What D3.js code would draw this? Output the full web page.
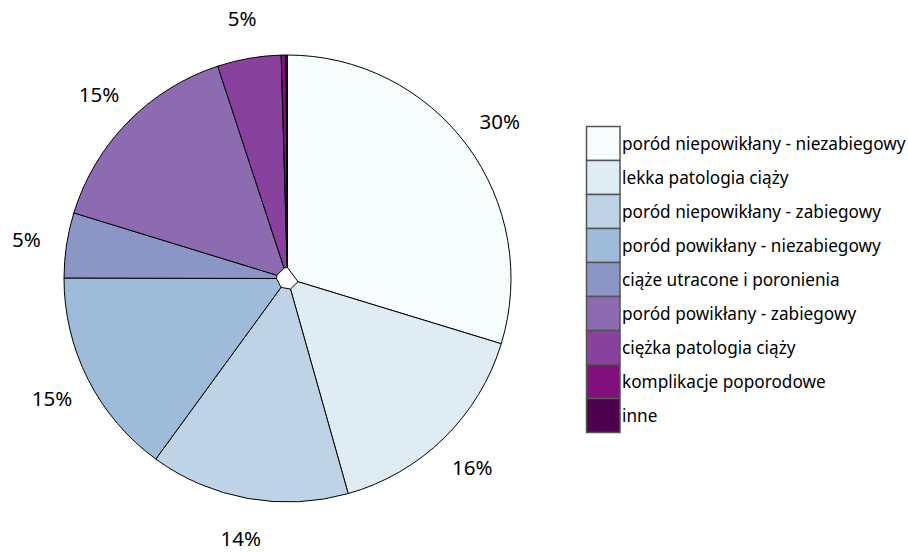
<!DOCTYPE html>
<html>
<head>
<meta charset="utf-8">
<script src="https://cdn.jsdelivr.net/npm/d3@7"></script>
<style>
  html, body { margin: 0; padding: 0; background: #fff; }
  svg { display: block; }
  text { font-family: "Noto Sans", "Open Sans", sans-serif; fill: #000; }
</style>
</head>
<body>
<svg id="chart" width="908" height="552"></svg>
<script>
// Categories of pregnancy / delivery outcomes
const categories = [
  "poród niepowikłany - niezabiegowy",
  "lekka patologia ciąży",
  "poród niepowikłany - zabiegowy",
  "poród powikłany - niezabiegowy",
  "ciąże utracone i poronienia",
  "poród powikłany - zabiegowy",
  "ciężka patologia ciąży",
  "komplikacje poporodowe",
  "inne"
];
// Share of each category, in percent
const shares = [29.7, 15.9, 14.4, 15.0, 4.7, 15.2, 4.6, 0.35, 0.1];
// Fill colours (BuPu sequence)
const colors = ["#f7fcfd", "#e0ecf4", "#bfd3e6", "#9ebcda", "#8c96c6",
                "#8c6bb1", "#88419d", "#810f7c", "#4d004b"];

const data = categories.map((c, i) => ({ name: c, value: shares[i], color: colors[i] }));

const svg = d3.select("#chart");
const cx = 287.5, cy = 278.5;
const outerR = 223.5, holeR = 11, labelR = 264;

const pie = d3.pie().value(d => d.value).sort(null);
const arcs = pie(data);
const total = d3.sum(shares);

const arc = d3.arc().innerRadius(0).outerRadius(outerR);

const g = svg.append("g").attr("transform", `translate(${cx},${cy})`);

g.selectAll("path.slice")
  .data(arcs)
  .join("path")
  .attr("class", "slice")
  .attr("d", arc)
  .attr("fill", d => d.data.color)
  .attr("stroke", "#000")
  .attr("stroke-width", 1)
  .attr("stroke-linejoin", "round");

// Small polygonal hole at the centre, with a vertex on each slice boundary
const holePts = arcs.map(d => [holeR * Math.sin(d.startAngle), -holeR * Math.cos(d.startAngle)]);
g.append("path")
  .attr("d", d3.line()(holePts) + "Z")
  .attr("fill", "#fff")
  .attr("stroke", "#000")
  .attr("stroke-width", 1);

// Percentage labels outside the pie
const labelArc = d3.arc().innerRadius(labelR).outerRadius(labelR);
g.selectAll("text.pct")
  .data(arcs.filter(d => Math.round(d.data.value / total * 100) >= 1))
  .join("text")
  .attr("class", "pct")
  .attr("transform", d => `translate(${labelArc.centroid(d)})`)
  .attr("text-anchor", "middle")
  .attr("dominant-baseline", "central")
  .attr("font-size", 20.5)
  .text(d => Math.round(d.data.value / total * 100) + "%");

// Legend
const lx = 586.5, ly = 126.5, box = 33.5, step = 34;
const legend = svg.append("g");
const rows = legend.selectAll("g.row")
  .data(data)
  .join("g")
  .attr("class", "row")
  .attr("transform", (d, i) => `translate(${lx},${ly + i * step})`);
rows.append("rect")
  .attr("width", box)
  .attr("height", step)
  .attr("fill", d => d.color)
  .attr("stroke", "#555")
  .attr("stroke-width", 1.5);
rows.append("text")
  .attr("x", box + 2)
  .attr("y", step / 2)
  .attr("dominant-baseline", "central")
  .attr("font-size", 17.2)
  .text(d => d.name);
</script>
</body>
</html>
